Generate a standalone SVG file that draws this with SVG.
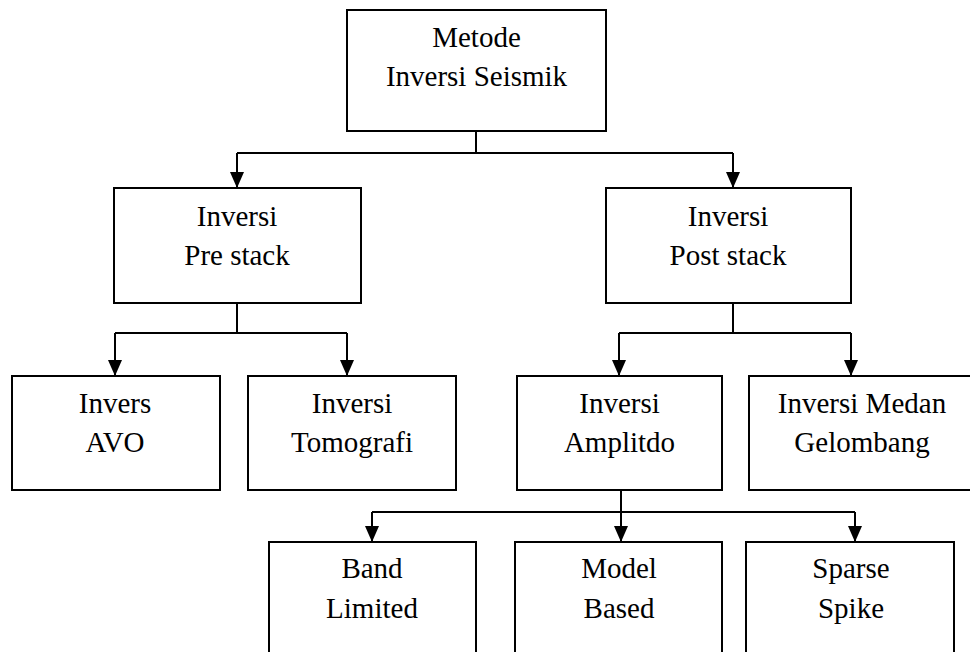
<svg xmlns="http://www.w3.org/2000/svg" width="970" height="652" viewBox="0 0 970 652">
<style>
.box{fill:#fff;stroke:#000;stroke-width:2}
.t{font-family:'Liberation Serif','DejaVu Serif',serif;font-size:29px;fill:#000;text-anchor:middle}
.c{fill:none;stroke:#000;stroke-width:2}
</style>
<defs>
<marker id="arr" markerWidth="17" markerHeight="15" refX="16" refY="7.5" orient="auto" markerUnits="userSpaceOnUse" viewBox="0 0 17 15">
<path d="M0,0.5 L16,7.5 L0,14.5 Z" fill="#000"/>
</marker>
</defs>
<rect width="970" height="652" fill="#fff"/>
<g id="connectors">
<path class="c" d="M476,131 V153 M237,153 H733"/>
<path class="c" d="M237,153 V188" marker-end="url(#arr)"/>
<path class="c" d="M733,153 V188" marker-end="url(#arr)"/>
<path class="c" d="M237,303 V333 M115,333 H347"/>
<path class="c" d="M115,333 V376" marker-end="url(#arr)"/>
<path class="c" d="M347,333 V376" marker-end="url(#arr)"/>
<path class="c" d="M733,303 V333 M619,333 H851"/>
<path class="c" d="M619,333 V376" marker-end="url(#arr)"/>
<path class="c" d="M851,333 V376" marker-end="url(#arr)"/>
<path class="c" d="M621,490 V512 M372,512 H855"/>
<path class="c" d="M372,512 V542" marker-end="url(#arr)"/>
<path class="c" d="M621,512 V542" marker-end="url(#arr)"/>
<path class="c" d="M855,512 V542" marker-end="url(#arr)"/>
</g>
<g id="metode">
<rect class="box" x="347" y="10" width="259" height="121"/>
<text class="t" x="476.5" y="47">Metode</text>
<text class="t" x="476.5" y="86">Inversi Seismik</text>
</g>
<g id="prestack">
<rect class="box" x="114" y="188" width="247" height="115"/>
<text class="t" x="237" y="226">Inversi</text>
<text class="t" x="237" y="265">Pre stack</text>
</g>
<g id="poststack">
<rect class="box" x="606" y="188" width="245" height="115"/>
<text class="t" x="728" y="226">Inversi</text>
<text class="t" x="728" y="265">Post stack</text>
</g>
<g id="avo">
<rect class="box" x="12" y="376" width="208" height="114"/>
<text class="t" x="115" y="413">Invers</text>
<text class="t" x="115" y="452">AVO</text>
</g>
<g id="tomografi">
<rect class="box" x="248" y="376" width="208" height="114"/>
<text class="t" x="352" y="413">Inversi</text>
<text class="t" x="352" y="452">Tomografi</text>
</g>
<g id="amplitdo">
<rect class="box" x="517" y="376" width="205" height="114"/>
<text class="t" x="619.5" y="413">Inversi</text>
<text class="t" x="619.5" y="452">Amplitdo</text>
</g>
<g id="medan">
<rect class="box" x="749" y="376" width="230" height="114"/>
<text class="t" x="862" y="413">Inversi Medan</text>
<text class="t" x="862" y="452">Gelombang</text>
</g>
<g id="band">
<rect class="box" x="269" y="542" width="207" height="120"/>
<text class="t" x="372" y="578">Band</text>
<text class="t" x="372" y="618">Limited</text>
</g>
<g id="model">
<rect class="box" x="515" y="542" width="207" height="120"/>
<text class="t" x="619" y="578">Model</text>
<text class="t" x="619" y="618">Based</text>
</g>
<g id="sparse">
<rect class="box" x="746" y="542" width="208" height="120"/>
<text class="t" x="851" y="578">Sparse</text>
<text class="t" x="851" y="618">Spike</text>
</g>
</svg>
